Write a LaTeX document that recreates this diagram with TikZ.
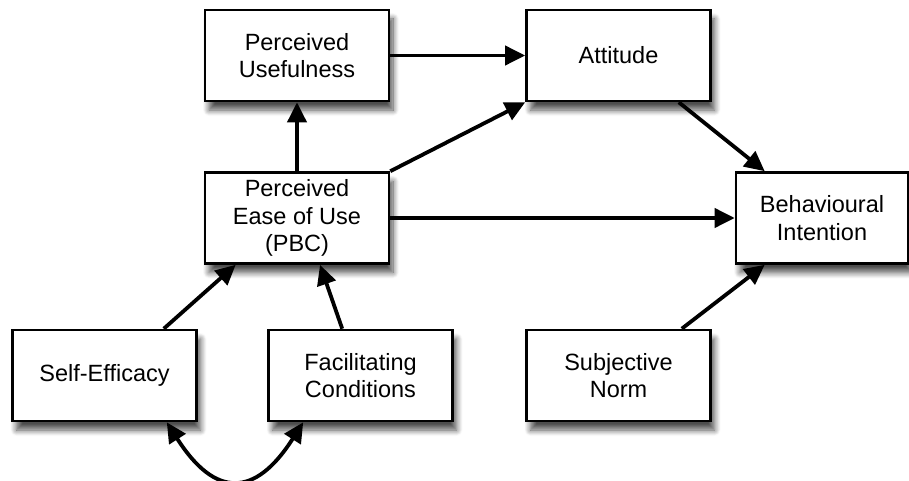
\documentclass[tikz,border=0pt]{standalone}
\usepackage{fontspec}
\setmainfont{Liberation Sans}
\usepackage{tikz}
\usetikzlibrary{arrows.meta,shadows.blur}

\tikzset{
  construct/.style={draw, line width=2.6, fill=white, minimum width=184, minimum height=91,
    align=center, inner sep=0pt, font=\fontsize{23.5}{27.5}\selectfont,
    blur shadow={shadow xshift=4pt, shadow yshift=-9pt, shadow opacity=70, shadow blur steps=10, shadow blur radius=6pt}},
  link/.style={line width=3.8, -{Triangle[length=20,width=19]}},
}

\begin{document}
\begin{tikzpicture}[x=1pt, y=-1pt]
        \useasboundingbox (0, 0) rectangle (909, 481);
        \node[construct] (pu) at (297, 55.5) {Perceived\\Usefulness};
        \node[construct] (att) at (618.5, 55.5) {Attitude};
        \node[construct] (peou) at (297, 218) {Perceived\\Ease of Use\\(PBC)};
        \node[construct, minimum width=172] (bi) at (822, 218) {Behavioural\\Intention};
        \node[construct] (se) at (104.5, 375.5) {Self-Efficacy};
        \node[construct] (fc) at (360.5, 375.5) {Facilitating\\Conditions};
        \node[construct] (sn) at (618.5, 375.5) {Subjective\\Norm};
        % paths between constructs
        \draw[link] (peou) -- (pu);
        \draw[link] (pu) -- (att);
        \draw[link] (peou) -- (bi);
        \draw[link] (peou.north east) -- (att.south west);
        \draw[link] ([xshift=-33pt]att.south east) -- ([xshift=30pt]bi.north west);
        \draw[link] ([xshift=-30pt]sn.north east) -- ([xshift=30pt]bi.south west);
        \draw[link] ([xshift=-34pt]se.north east) -- ([xshift=32pt]peou.south west);
        \draw[link] ([xshift=75pt]fc.north west) -- ([xshift=23pt]peou.south);
        % correlation
        \draw[line width=3.8, {Triangle[length=20,width=19]}-{Triangle[length=20,width=19]}]
            ([xshift=-31pt]se.south east) .. controls (215, 498) and (255, 498) .. ([xshift=36pt]fc.south west);
    \end{tikzpicture}
\end{document}
